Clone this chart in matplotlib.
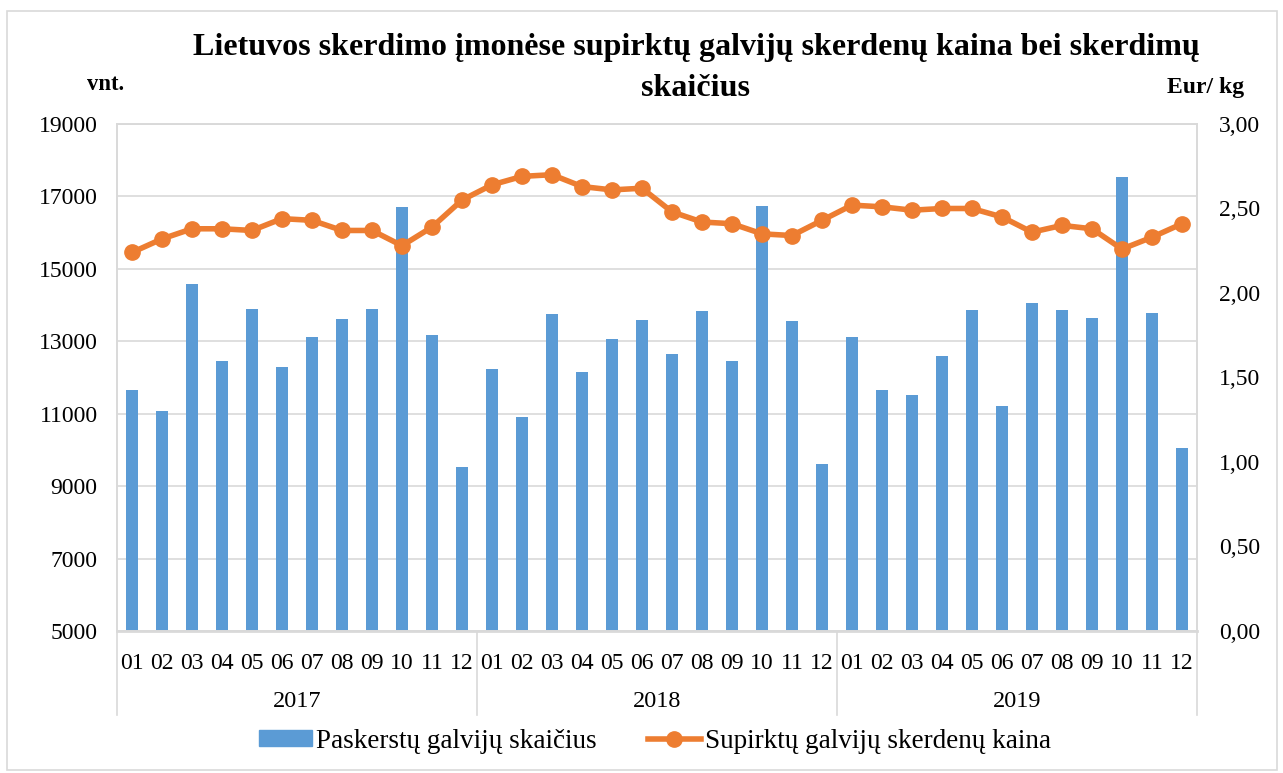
import matplotlib
matplotlib.use("Agg")
import matplotlib.pyplot as plt
from matplotlib.patches import Rectangle
from matplotlib.lines import Line2D
import numpy as np

plt.rcParams['font.family'] = ['Liberation Serif', 'DejaVu Serif']

years = ["2017", "2018", "2019"]
months = ["01", "02", "03", "04", "05", "06", "07", "08", "09", "10", "11", "12"]

count_2017 = [11650, 11070, 14570, 12450, 13880, 12280, 13130, 13610, 13890, 16700, 13160, 9540]
count_2018 = [12240, 10920, 13760, 12160, 13060, 13590, 12640, 13830, 12450, 16740, 13550, 9600]
count_2019 = [13110, 11660, 11510, 12580, 13870, 11220, 14050, 13870, 13650, 17550, 13790, 10040]

price_2017 = [2.24, 2.32, 2.38, 2.38, 2.37, 2.44, 2.43, 2.37, 2.37, 2.28, 2.39, 2.55]
price_2018 = [2.64, 2.69, 2.70, 2.63, 2.61, 2.62, 2.48, 2.42, 2.41, 2.35, 2.34, 2.43]
price_2019 = [2.52, 2.51, 2.49, 2.50, 2.50, 2.45, 2.36, 2.40, 2.38, 2.26, 2.33, 2.41]

counts = count_2017 + count_2018 + count_2019
prices = price_2017 + price_2018 + price_2019
labels = months * len(years)

title_lines = ["Lietuvos skerdimo įmonėse supirktų galvijų skerdenų kaina bei skerdimų", "skaičius"]

BLUE = "#5B9BD5"
ORANGE = "#ED7D31"
GRID = "#D9D9D9"

W, H = 1283, 773
fig = plt.figure(figsize=(W / 100, H / 100), dpi=100)
x0, x1, ytop, ybot = 117, 1197, 124, 631
ax = fig.add_axes([x0 / W, 1 - ybot / H, (x1 - x0) / W, (ybot - ytop) / H])
ax2 = ax.twinx()

n = len(counts)
x = np.arange(n)
ax.bar(x, counts, width=0.37, color=BLUE, zorder=2)
ax.set_xlim(-0.5, n - 0.5)
ax.set_ylim(5000, 19000)
ax.set_yticks(np.arange(5000, 19001, 2000))
ax.yaxis.grid(True, color=GRID, linewidth=1.2, zorder=0)
ax.set_axisbelow(True)
ax.tick_params(axis='y', length=0, labelsize=17, pad=14)
ax.set_xticks(x)
ax.set_xticklabels(labels, fontsize=17)
ax.tick_params(axis='x', length=0, pad=16)

ax2.plot(x, prices, color=ORANGE, linewidth=4, marker='o', markersize=11, zorder=3)
ax2.set_ylim(0, 3.0)
ax2.set_yticks(np.arange(0, 3.01, 0.5))
ax2.set_yticklabels([f"{v:.2f}".replace('.', ',') for v in np.arange(0, 3.01, 0.5)])
ax2.tick_params(axis='y', length=0, labelsize=17, pad=16)

for a in (ax, ax2):
    for s in a.spines.values():
        s.set_color(GRID)
        s.set_linewidth(1.2)
ax.spines['bottom'].set_linewidth(2)

# year labels and separators
for i, yr in enumerate(years):
    ax.text((i * 12 + 5.5), -0.14, yr, transform=ax.get_xaxis_transform(),
            ha='center', va='center', fontsize=17.5)
for b in range(len(years) + 1):
    xb = b * 12 - 0.5
    ax.plot([xb, xb], [0, -0.166], transform=ax.get_xaxis_transform(),
            color=GRID, linewidth=1.2, clip_on=False)

fig.text(696 / W, 1 - 48 / H, title_lines[0],
         ha='center', va='center', fontsize=23, fontweight='bold')
fig.text(696 / W, 1 - 88 / H, title_lines[1],
         ha='center', va='center', fontsize=23, fontweight='bold')
fig.text(106 / W, 1 - 85 / H, "vnt.", ha='center', va='center', fontsize=16.3, fontweight='bold')
fig.text(1206 / W, 1 - 88 / H, "Eur/ kg", ha='center', va='center', fontsize=17, fontweight='bold')

handles = [Rectangle((0, 0), 1, 1, color=BLUE),
           Line2D([0], [0], color=ORANGE, linewidth=4, marker='o', markersize=11)]
fig.legend(handles, ["Paskerstų galvijų skaičius", "Supirktų galvijų skerdenų kaina"],
           loc='center', bbox_to_anchor=(655 / W, 1 - 741 / H), ncol=2, frameon=False,
           fontsize=19.5, handlelength=1.95, handleheight=0.55, columnspacing=1.9, handletextpad=0.15)

fig.add_artist(Rectangle((7 / W, 1 - 770 / H), 1270 / W, 759 / H, transform=fig.transFigure,
                         fill=False, edgecolor=GRID, linewidth=1.2))

fig.savefig("out.png", dpi=100)
